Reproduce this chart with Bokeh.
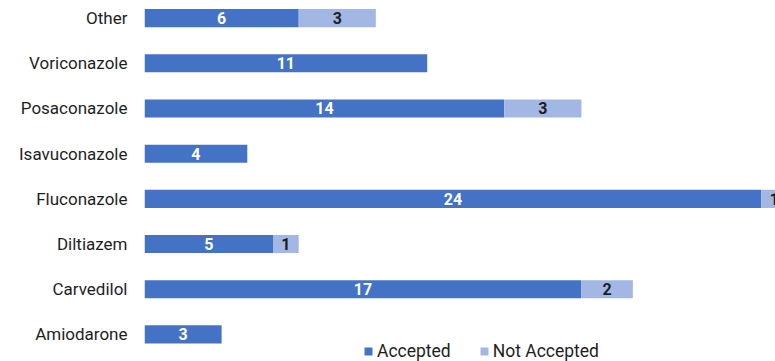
from bokeh.plotting import figure
from bokeh.models import Range1d, FixedTicker, Legend, LegendItem, ColumnDataSource
from bokeh.core.properties import value
from bokeh.embed import file_html
from bokeh.resources import INLINE

# Data (bottom to top)
categories = ["Amiodarone", "Carvedilol", "Diltiazem", "Fluconazole",
              "Isavuconazole", "Posaconazole", "Voriconazole", "Other"]
accepted = [3, 17, 5, 24, 4, 14, 11, 6]
not_accepted = [0, 2, 1, 1, 0, 3, 0, 3]

ACC = "#4472c4"
NACC = "#a3b7e4"
FONT = "Roboto"

ys = list(range(len(categories)))

p = figure(width=775, height=361, output_backend="svg", toolbar_location=None,
           x_range=Range1d(0, 24.55), y_range=Range1d(-0.6, 7.39),
           min_border_left=144, min_border_right=0, min_border_top=0, min_border_bottom=0)
p.outline_line_color = None
p.xgrid.visible = False
p.ygrid.visible = False
p.xaxis.visible = False

p.yaxis.ticker = FixedTicker(ticks=ys)
p.yaxis.major_label_overrides = {i: c for i, c in zip(ys, categories)}
p.yaxis.axis_line_color = None
p.yaxis.major_tick_line_color = None
p.yaxis.minor_tick_line_color = None
p.yaxis.major_label_standoff = 11
p.yaxis.major_label_text_font = FONT
p.yaxis.major_label_text_font_size = "17px"
p.yaxis.major_label_text_color = "#1e1e1e"

src = ColumnDataSource(dict(
    y=ys,
    acc=accepted,
    nacc=not_accepted,
    total=[a + n for a, n in zip(accepted, not_accepted)],
    acc_mid=[a / 2 for a in accepted],
    nacc_mid=[a + n / 2 for a, n in zip(accepted, not_accepted)],
    acc_lbl=[str(a) if a else "" for a in accepted],
    nacc_lbl=[str(n) if n else "" for n in not_accepted],
))

h = 0.4
r1 = p.hbar(y="y", left=0, right="acc", height=h, source=src, fill_color=ACC, line_color=None)
r2 = p.hbar(y="y", left="acc", right="total", height=h, source=src, fill_color=NACC, line_color=None)

p.text(x="acc_mid", y="y", text="acc_lbl", source=src, text_color="white",
       text_align="center", text_baseline="middle", text_font=value(FONT),
       text_font_size="16px", text_font_style="bold")
p.text(x="nacc_mid", y="y", text="nacc_lbl", source=src, text_color="#1e1e1e",
       text_align="center", text_baseline="middle", text_font=value(FONT),
       text_font_size="16px", text_font_style="bold")

legend = Legend(items=[LegendItem(label="Accepted", renderers=[r1]),
                       LegendItem(label="Not Accepted", renderers=[r2])],
                orientation="horizontal", location=(219, 0),
                glyph_width=10, glyph_height=10, label_standoff=4, spacing=28,
                padding=0, margin=0, border_line_color=None, background_fill_alpha=0,
                label_text_font=FONT, label_text_font_size="17.5px", label_text_color="#1e1e1e")
p.add_layout(legend, "center")

open("out.html", "w").write(file_html(p, INLINE))
